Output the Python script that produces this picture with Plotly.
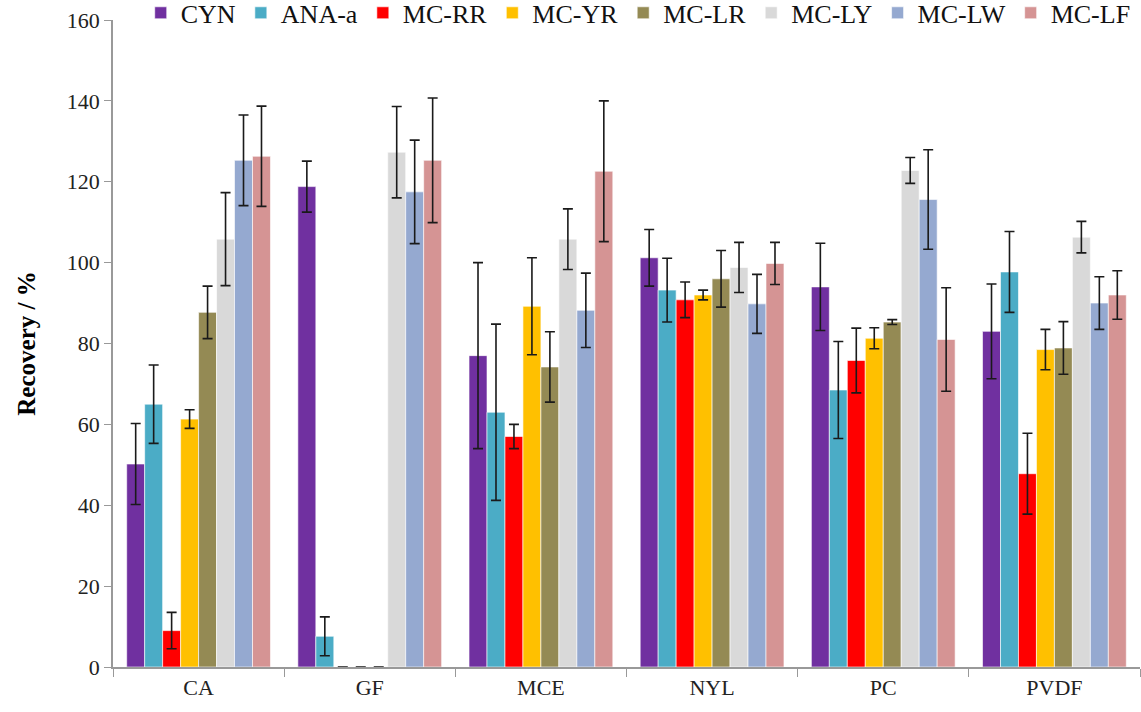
import plotly.graph_objects as go

categories = ["CA", "GF", "MCE", "NYL", "PC", "PVDF"]
series_names = ["CYN", "ANA-a", "MC-RR", "MC-YR", "MC-LR", "MC-LY", "MC-LW", "MC-LF"]

CYN = [50.2, 118.8, 77.0, 101.2, 94.0, 83.0]
CYN_err = [10.0, 6.3, 23.0, 7.0, 10.8, 11.7]
ANA = [65.0, 7.6, 63.0, 93.2, 68.5, 97.7]
ANA_err = [9.7, 4.8, 21.8, 7.9, 12.0, 10.0]
MCRR = [9.0, 0, 57.0, 90.8, 75.8, 47.8]
MCRR_err = [4.5, 0, 3.0, 4.4, 8.0, 10.0]
MCYR = [61.3, 0, 89.2, 92.0, 81.3, 78.5]
MCYR_err = [2.3, 0, 12.0, 1.2, 2.6, 5.0]
MCLR = [87.7, 0, 74.2, 96.0, 85.3, 78.9]
MCLR_err = [6.5, 0, 8.7, 7.0, 0.6, 6.5]
MCLY = [105.8, 127.3, 105.8, 98.8, 122.8, 106.3]
MCLY_err = [11.5, 11.3, 7.5, 6.2, 3.2, 3.9]
MCLW = [125.3, 117.5, 88.2, 89.8, 115.6, 90.0]
MCLW_err = [11.2, 12.8, 9.2, 7.3, 12.3, 6.5]
MCLF = [126.3, 125.3, 122.6, 99.8, 81.0, 92.0]
MCLF_err = [12.4, 15.4, 17.4, 5.2, 12.8, 6.0]

values = [CYN, ANA, MCRR, MCYR, MCLR, MCLY, MCLW, MCLF]
errors = [CYN_err, ANA_err, MCRR_err, MCYR_err, MCLR_err, MCLY_err, MCLW_err, MCLF_err]
colors = ["#7030A0", "#4BACC6", "#FF0000", "#FFC000", "#948A54", "#D9D9D9", "#95A9D0", "#D59494"]

fig = go.Figure()
for name, v, e, c in zip(series_names, values, errors, colors):
    fig.add_trace(go.Bar(
        x=categories, y=v, name=name,
        marker=dict(color=c, line=dict(color="rgba(255,255,255,0.6)", width=1)),
        error_y=dict(type="data", array=e, visible=True, color="#1a1a1a", thickness=1.6, width=5),
    ))

font_family = "Liberation Serif"
fig.update_layout(
    width=1141, height=712,
    margin=dict(l=113, r=1, t=20, b=45, autoexpand=False),
    paper_bgcolor="white", plot_bgcolor="white",
    barmode="group", bargap=0.16, bargroupgap=0,
    font=dict(family=font_family, size=22, color="#222"),
    legend=dict(orientation="h", x=0.027, y=1.011, xanchor="left", yanchor="middle",
                font=dict(family=font_family, size=26, color="#111"),
                bgcolor="rgba(0,0,0,0)", itemwidth=30, traceorder="normal"),
    xaxis=dict(showline=True, linecolor="#999", linewidth=1.5, ticks="outside",
               tickson="boundaries", ticklen=8, tickcolor="#999", automargin=False,
               tickfont=dict(family=font_family, size=22, color="#222"), mirror=False),
    yaxis=dict(range=[0, 160], dtick=20, showline=True, linecolor="#999", linewidth=1.5,
               ticks="outside", ticklen=7, tickcolor="#999", showgrid=False, zeroline=False,
               automargin=False,
               tickfont=dict(family=font_family, size=22, color="#222"),
               title=dict(text="<b>Recovery / %</b>", font=dict(family=font_family, size=25, color="#000"), standoff=24)),
)
fig.write_html("out.html")
